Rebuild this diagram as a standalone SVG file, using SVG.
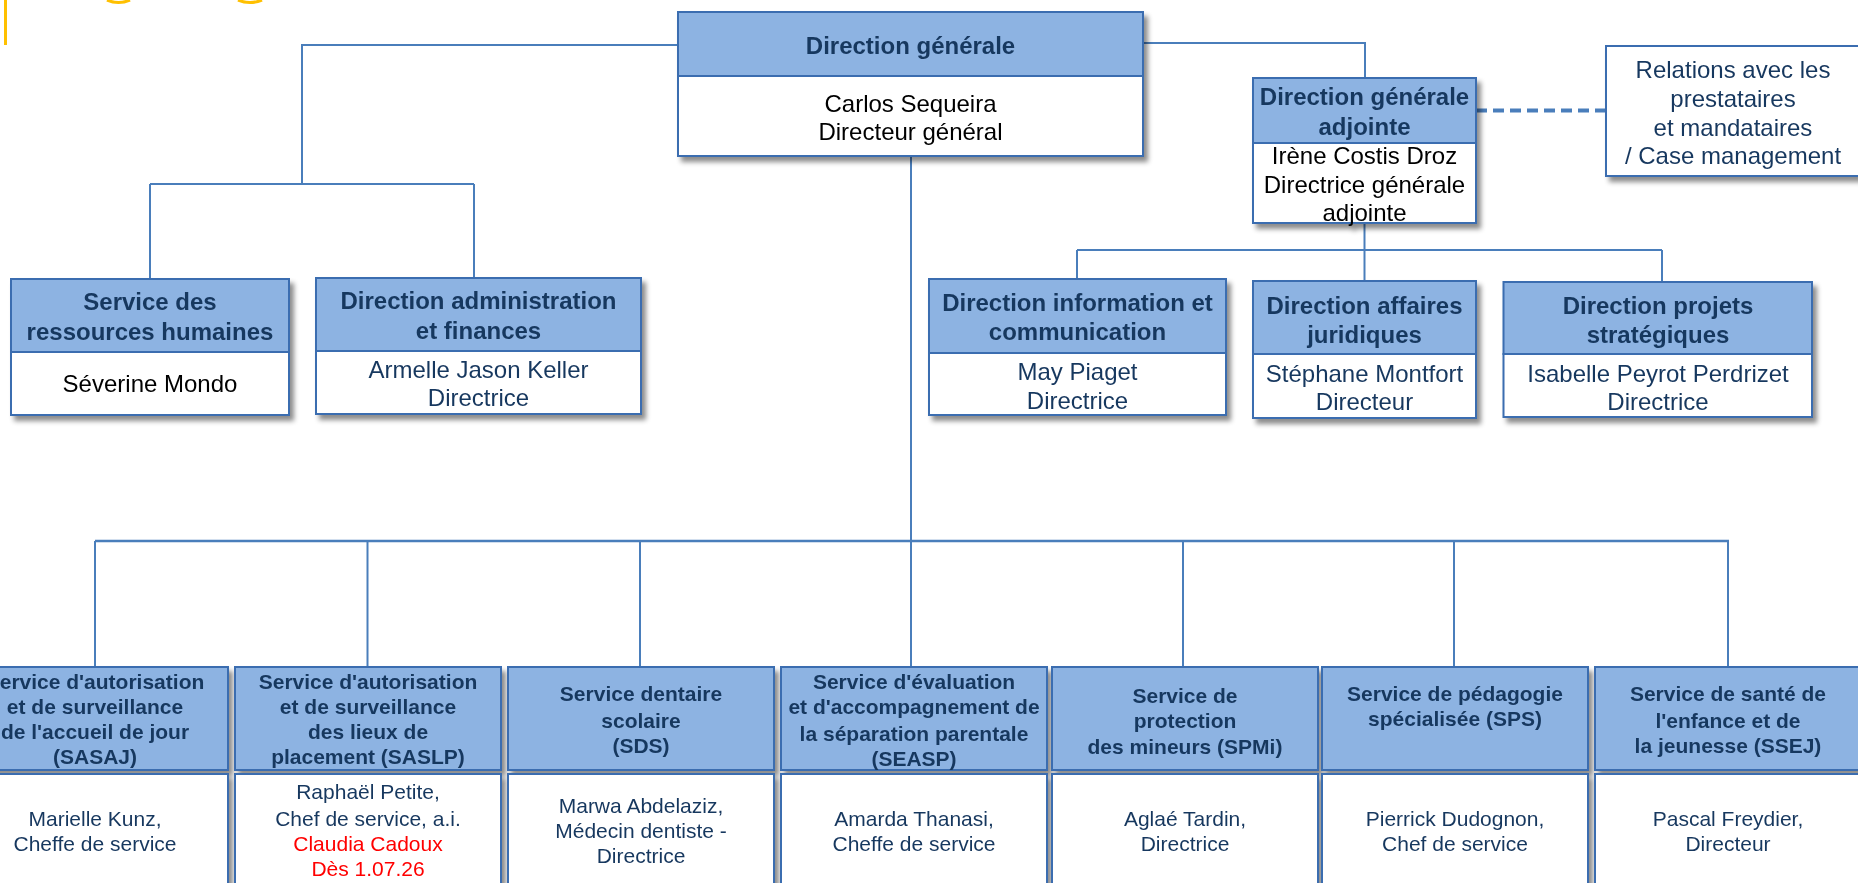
<svg xmlns="http://www.w3.org/2000/svg" width="1858" height="883" viewBox="0 0 1858 883">
<defs>
<filter id="sh" x="-10%" y="-10%" width="130%" height="140%">
<feDropShadow dx="4" dy="5" stdDeviation="2.5" flood-color="#000" flood-opacity="0.45"/>
</filter>
<style>
.hdr{fill:#8DB3E2;stroke:#3A6DB0;stroke-width:2}
.bdy{fill:#fff;stroke:#3A6DB0;stroke-width:2}
.con{stroke:#4A7EBB;stroke-width:2;fill:none}
.dash{stroke:#4A7EBB;stroke-width:4;fill:none;stroke-dasharray:11 6}
text{font-family:"Liberation Sans",Arial,sans-serif;text-anchor:middle}
.ht{font-size:24px;font-weight:bold;fill:#17375E}
.bt{font-size:24px;fill:#000}
.bn{font-size:24px;fill:#17375E}
.hs{font-size:21px;font-weight:bold;fill:#17375E}
.bs{font-size:21px;fill:#17375E}
.red{fill:#FF0000}
.yel{stroke:#FFC000;stroke-width:3;fill:none}
</style>
</defs>
<rect width="1858" height="883" fill="#fff"/>
<g id="title-fragment">
<line class="yel" x1="5.5" y1="0" x2="5.5" y2="45"/>
<path class="yel" d="M107,0 Q118.5,5 130,0"/>
<path class="yel" d="M238,0 Q250,5 262,0"/>
</g>
<g id="connectors">
<polyline class="con" points="678,45 302,45 302,184"/>
<line class="con" x1="150" y1="184" x2="474" y2="184"/>
<line class="con" x1="150" y1="184" x2="150" y2="279"/>
<line class="con" x1="474" y1="184" x2="474" y2="278"/>
<polyline class="con" points="1143,43 1365,43 1365,78"/>
<line class="dash" x1="1476" y1="110.5" x2="1606" y2="110.5"/>
<line class="con" x1="1364.5" y1="223" x2="1364.5" y2="281"/>
<line class="con" x1="1077" y1="250" x2="1662" y2="250"/>
<line class="con" x1="1077" y1="250" x2="1077" y2="279"/>
<line class="con" x1="1662" y1="250" x2="1662" y2="282"/>
<line class="con" x1="911" y1="156" x2="911" y2="667"/>
<line class="con" x1="95" y1="541" x2="1729" y2="541" style="stroke-width:2.5"/>
<line class="con" x1="95" y1="541" x2="95" y2="667"/>
<line class="con" x1="367.5" y1="541" x2="367.5" y2="667"/>
<line class="con" x1="640" y1="541" x2="640" y2="667"/>
<line class="con" x1="1183" y1="541" x2="1183" y2="667"/>
<line class="con" x1="1454" y1="541" x2="1454" y2="667"/>
<line class="con" x1="1728" y1="541" x2="1728" y2="667"/>
</g>
<g id="dg" filter="url(#sh)">
<rect class="bdy" x="678" y="76" width="465" height="80"/>
<rect class="hdr" x="678" y="12" width="465" height="64"/>
<text class="ht" x="910.5" y="54">Direction générale</text>
<text class="bt" x="910.5" y="112">Carlos Sequeira</text>
<text class="bt" x="910.5" y="140">Directeur général</text>
</g>
<g id="srh" filter="url(#sh)">
<rect class="bdy" x="11" y="352" width="278" height="63"/>
<rect class="hdr" x="11" y="279" width="278" height="73"/>
<text class="ht" x="150" y="310">Service des</text>
<text class="ht" x="150" y="340">ressources humaines</text>
<text class="bt" x="150" y="392">Séverine Mondo</text>
</g>
<g id="daf" filter="url(#sh)">
<rect class="bdy" x="316" y="351" width="325" height="63"/>
<rect class="hdr" x="316" y="278" width="325" height="73"/>
<text class="ht" x="478.5" y="309">Direction administration</text>
<text class="ht" x="478.5" y="338.5">et finances</text>
<text class="bn" x="478.5" y="378">Armelle Jason Keller</text>
<text class="bn" x="478.5" y="406">Directrice</text>
</g>
<g id="dga" filter="url(#sh)">
<rect class="bdy" x="1253" y="143" width="223" height="80"/>
<rect class="hdr" x="1253" y="78" width="223" height="65"/>
<text class="ht" x="1364.5" y="105">Direction générale</text>
<text class="ht" x="1364.5" y="134.5">adjointe</text>
<text class="bt" x="1364.5" y="163.5">Irène Costis Droz</text>
<text class="bt" x="1364.5" y="192.5">Directrice générale</text>
<text class="bt" x="1364.5" y="221">adjointe</text>
</g>
<g id="relations" filter="url(#sh)">
<rect class="bdy" x="1606" y="46" width="256" height="130"/>
<text class="bn" x="1733" y="77.7">Relations avec les</text>
<text class="bn" x="1733" y="106.7">prestataires</text>
<text class="bn" x="1733" y="135.7">et mandataires</text>
<text class="bn" x="1733" y="163.5">/ Case management</text>
</g>
<g id="dic" filter="url(#sh)">
<rect class="bdy" x="929" y="353" width="297" height="62"/>
<rect class="hdr" x="929" y="279" width="297" height="74"/>
<text class="ht" x="1077.5" y="311">Direction information et</text>
<text class="ht" x="1077.5" y="340">communication</text>
<text class="bn" x="1077.5" y="380">May Piaget</text>
<text class="bn" x="1077.5" y="408.5">Directrice</text>
</g>
<g id="daj" filter="url(#sh)">
<rect class="bdy" x="1253" y="354" width="223" height="64"/>
<rect class="hdr" x="1253" y="281" width="223" height="73"/>
<text class="ht" x="1364.5" y="313.7">Direction affaires</text>
<text class="ht" x="1364.5" y="342.5">juridiques</text>
<text class="bn" x="1364.5" y="381.7">Stéphane Montfort</text>
<text class="bn" x="1364.5" y="410">Directeur</text>
</g>
<g id="dps" filter="url(#sh)">
<rect class="bdy" x="1503.5" y="354" width="308.5" height="63"/>
<rect class="hdr" x="1503.5" y="282" width="308.5" height="72"/>
<text class="ht" x="1658" y="313.7">Direction projets</text>
<text class="ht" x="1658" y="342.5">stratégiques</text>
<text class="bn" x="1658" y="381.7">Isabelle Peyrot Perdrizet</text>
<text class="bn" x="1658" y="409.5">Directrice</text>
</g>
<g id="sasaj" filter="url(#sh)">
<rect class="hdr" x="-38" y="667" width="266" height="103"/>
<rect class="bdy" x="-38" y="774" width="266" height="130"/>
<text class="hs" x="95" y="689">Service d'autorisation</text>
<text class="hs" x="95" y="714">et de surveillance</text>
<text class="hs" x="95" y="739">de l'accueil de jour</text>
<text class="hs" x="95" y="764">(SASAJ)</text>
<text class="bs" x="95" y="825.5">Marielle Kunz,</text>
<text class="bs" x="95" y="850.5">Cheffe de service</text>
</g>
<g id="saslp" filter="url(#sh)">
<rect class="hdr" x="235" y="667" width="266" height="103"/>
<rect class="bdy" x="235" y="774" width="266" height="130"/>
<text class="hs" x="368" y="689">Service d'autorisation</text>
<text class="hs" x="368" y="714">et de surveillance</text>
<text class="hs" x="368" y="739">des lieux de</text>
<text class="hs" x="368" y="764">placement (SASLP)</text>
<text class="bs" x="368" y="799">Raphaël Petite,</text>
<text class="bs" x="368" y="825.5">Chef de service, a.i.</text>
<text class="bs red" x="368" y="850.5">Claudia Cadoux</text>
<text class="bs red" x="368" y="875.5">Dès 1.07.26</text>
</g>
<g id="sds" filter="url(#sh)">
<rect class="hdr" x="508" y="667" width="266" height="103"/>
<rect class="bdy" x="508" y="774" width="266" height="130"/>
<text class="hs" x="641" y="700.5">Service dentaire</text>
<text class="hs" x="641" y="727.5">scolaire</text>
<text class="hs" x="641" y="753">(SDS)</text>
<text class="bs" x="641" y="812.5">Marwa Abdelaziz,</text>
<text class="bs" x="641" y="837.5">Médecin dentiste -</text>
<text class="bs" x="641" y="862.5">Directrice</text>
</g>
<g id="seasp" filter="url(#sh)">
<rect class="hdr" x="781" y="667" width="266" height="103"/>
<rect class="bdy" x="781" y="774" width="266" height="130"/>
<text class="hs" x="914" y="689">Service d'évaluation</text>
<text class="hs" x="914" y="714">et d'accompagnement de</text>
<text class="hs" x="914" y="740.5">la séparation parentale</text>
<text class="hs" x="914" y="765.5">(SEASP)</text>
<text class="bs" x="914" y="825.5">Amarda Thanasi,</text>
<text class="bs" x="914" y="850.5">Cheffe de service</text>
</g>
<g id="spmi" filter="url(#sh)">
<rect class="hdr" x="1052" y="667" width="266" height="103"/>
<rect class="bdy" x="1052" y="774" width="266" height="130"/>
<text class="hs" x="1185" y="702.5">Service de</text>
<text class="hs" x="1185" y="727.5">protection</text>
<text class="hs" x="1185" y="754">des mineurs (SPMi)</text>
<text class="bs" x="1185" y="825.5">Aglaé Tardin,</text>
<text class="bs" x="1185" y="850.5">Directrice</text>
</g>
<g id="sps" filter="url(#sh)">
<rect class="hdr" x="1322" y="667" width="266" height="103"/>
<rect class="bdy" x="1322" y="774" width="266" height="130"/>
<text class="hs" x="1455" y="700.5">Service de pédagogie</text>
<text class="hs" x="1455" y="725.5">spécialisée (SPS)</text>
<text class="bs" x="1455" y="825.5">Pierrick Dudognon,</text>
<text class="bs" x="1455" y="850.5">Chef de service</text>
</g>
<g id="ssej" filter="url(#sh)">
<rect class="hdr" x="1595" y="667" width="266" height="103"/>
<rect class="bdy" x="1595" y="774" width="266" height="130"/>
<text class="hs" x="1728" y="700.5">Service de santé de</text>
<text class="hs" x="1728" y="727.5">l'enfance et de</text>
<text class="hs" x="1728" y="752.5">la jeunesse (SSEJ)</text>
<text class="bs" x="1728" y="825.5">Pascal Freydier,</text>
<text class="bs" x="1728" y="850.5">Directeur</text>
</g>
</svg>
